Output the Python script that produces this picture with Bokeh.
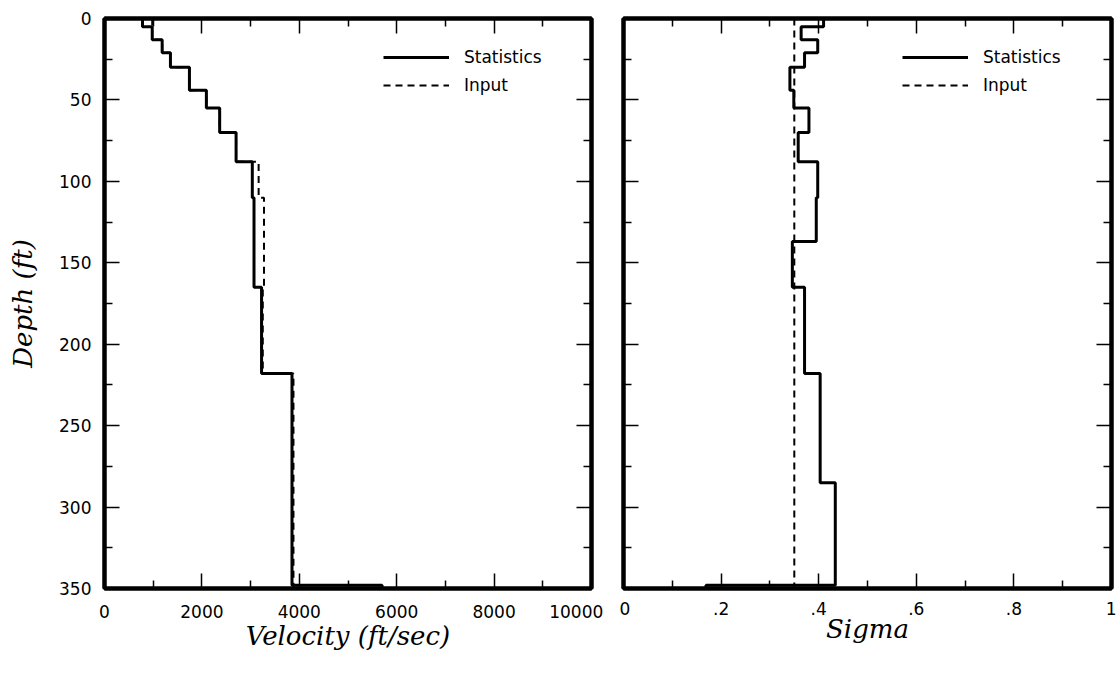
from bokeh.plotting import figure
from bokeh.models import Range1d, LinearAxis, FixedTicker, Legend, LegendItem
from bokeh.layouts import row
from bokeh.embed import file_html
from bokeh.resources import INLINE

# ---- data ----
depth_bounds = [0, 5, 13, 21, 30, 44, 55, 70, 88, 110, 137, 165, 218, 285, 348, 350]
vel_stats = [780, 980, 1184, 1354, 1744, 2092, 2365, 2702, 3035, 3070, 3070, 3225, 3850, 3850, 5700]
vel_input = [980, 980, 1184, 1354, 1744, 2092, 2365, 2702, 3165, 3275, 3275, 3250, 3880, 3880, 3880]
sigma_stats = [0.410, 0.364, 0.398, 0.371, 0.341, 0.349, 0.380, 0.358, 0.398, 0.395, 0.346, 0.371, 0.403, 0.434, 0.169]
sigma_input = [0.35, 0.35, 0.35, 0.35, 0.35, 0.35, 0.35, 0.35, 0.35, 0.35, 0.35, 0.35, 0.35, 0.35, 0.35]

depth_ticks = [0, 50, 100, 150, 200, 250, 300, 350]
depth_minor = [25, 75, 125, 175, 225, 275, 325]
vel_ticks = [0, 2000, 4000, 6000, 8000, 10000]
vel_labels = ["0", "2000", "4000", "6000", "8000", "10000\u00a0\u00a0\u00a0"]
vel_minor = [1000, 3000, 5000, 7000, 9000]
sig_ticks = [0, 0.2, 0.4, 0.6, 0.8, 1.0]
sig_labels = ["0", ".2", ".4", ".6", ".8", "1"]
sig_minor = [0.1, 0.3, 0.5, 0.7, 0.9]

TICK_FONT = "DejaVu Sans"
TICK_SIZE = "17px"
LABEL_FONT = "DejaVu Serif"
LABEL_SIZE = "26px"


def layer_path(bounds, vals):
    xs, ys = [], []
    for i, v in enumerate(vals):
        xs += [v, v]
        ys += [bounds[i], bounds[i + 1]]
    return xs, ys


def style_axis(ax, ticks, minor, labels=None, show_labels=True):
    ax.ticker = FixedTicker(ticks=ticks, minor_ticks=minor)
    ax.axis_line_width = 4
    ax.axis_line_color = "black"
    ax.major_tick_in = 15
    ax.major_tick_out = 0
    ax.minor_tick_in = 8
    ax.minor_tick_out = 0
    ax.major_tick_line_width = 1.5
    ax.minor_tick_line_width = 1.5
    if show_labels:
        ax.major_label_text_font = TICK_FONT
        ax.major_label_text_font_size = TICK_SIZE
        ax.major_label_text_color = "black"
        ax.major_label_standoff = 13
        if labels is not None:
            ax.major_label_overrides = {t: l for t, l in zip(ticks, labels)}
    else:
        ax.major_label_text_font_size = "1px"
        ax.major_label_text_color = None
        ax.major_label_text_alpha = 0
        ax.major_label_standoff = 0


def make_panel(xr, xticks, xminor, xlabels, xlabel, stats, inp, left_border, right_border, ylabel):
    p = figure(frame_width=488 if ylabel is None else 487, frame_height=570,
               x_range=xr, y_range=Range1d(350, 0),
               output_backend="svg", toolbar_location=None,
               min_border_left=left_border, min_border_right=right_border,
               min_border_top=18, min_border_bottom=87,
               background_fill_color="white", border_fill_color="white")
    p.grid.visible = False
    p.outline_line_color = "black"
    p.outline_line_width = 4

    style_axis(p.xaxis[0], xticks, xminor, xlabels)
    p.xaxis[0].axis_label = xlabel
    p.xaxis[0].axis_label_text_font = LABEL_FONT
    p.xaxis[0].axis_label_text_font_style = "italic"
    p.xaxis[0].axis_label_text_font_size = LABEL_SIZE
    p.xaxis[0].axis_label_text_color = "black"
    p.xaxis[0].axis_label_standoff = -4

    style_axis(p.yaxis[0], depth_ticks, depth_minor, show_labels=ylabel is not None)
    if ylabel is not None:
        p.yaxis[0].axis_label = ylabel
        p.yaxis[0].axis_label_text_font = LABEL_FONT
        p.yaxis[0].axis_label_text_font_style = "italic"
        p.yaxis[0].axis_label_text_font_size = LABEL_SIZE
        p.yaxis[0].axis_label_text_color = "black"
        p.yaxis[0].axis_label_standoff = 18

    top = LinearAxis()
    style_axis(top, xticks, xminor, show_labels=False)
    p.add_layout(top, "above")
    right = LinearAxis()
    style_axis(right, depth_ticks, depth_minor, show_labels=False)
    p.add_layout(right, "right")

    sx, sy = layer_path(depth_bounds, stats)
    ix, iy = layer_path(depth_bounds, inp)
    r_in = p.line(ix, iy, line_color="black", line_width=2, line_dash="7 5")
    r_st = p.line(sx, sy, line_color="black", line_width=3)

    legend = Legend(items=[LegendItem(label="Statistics", renderers=[r_st]),
                           LegendItem(label="Input", renderers=[r_in])],
                    location=(279, 493))
    legend.border_line_alpha = 0
    legend.background_fill_alpha = 0
    legend.padding = 0
    legend.margin = 0
    legend.spacing = 8
    legend.glyph_width = 66
    legend.glyph_height = 20
    legend.label_height = 20
    legend.label_standoff = 15
    legend.label_text_font = TICK_FONT
    legend.label_text_font_size = TICK_SIZE
    legend.label_text_color = "black"
    p.add_layout(legend)
    return p


p1 = make_panel(Range1d(0, 10000), vel_ticks, vel_minor, vel_labels, "Velocity (ft/sec)",
                vel_stats, vel_input, 104, 28, "Depth (ft)")
p2 = make_panel(Range1d(0, 1), sig_ticks, sig_minor, sig_labels, "Sigma",
                sigma_stats, sigma_input, 4, 5, None)

layout = row(p1, p2, spacing=0)
layout.margin = 0

open("out.html", "w").write(file_html(layout, INLINE))
